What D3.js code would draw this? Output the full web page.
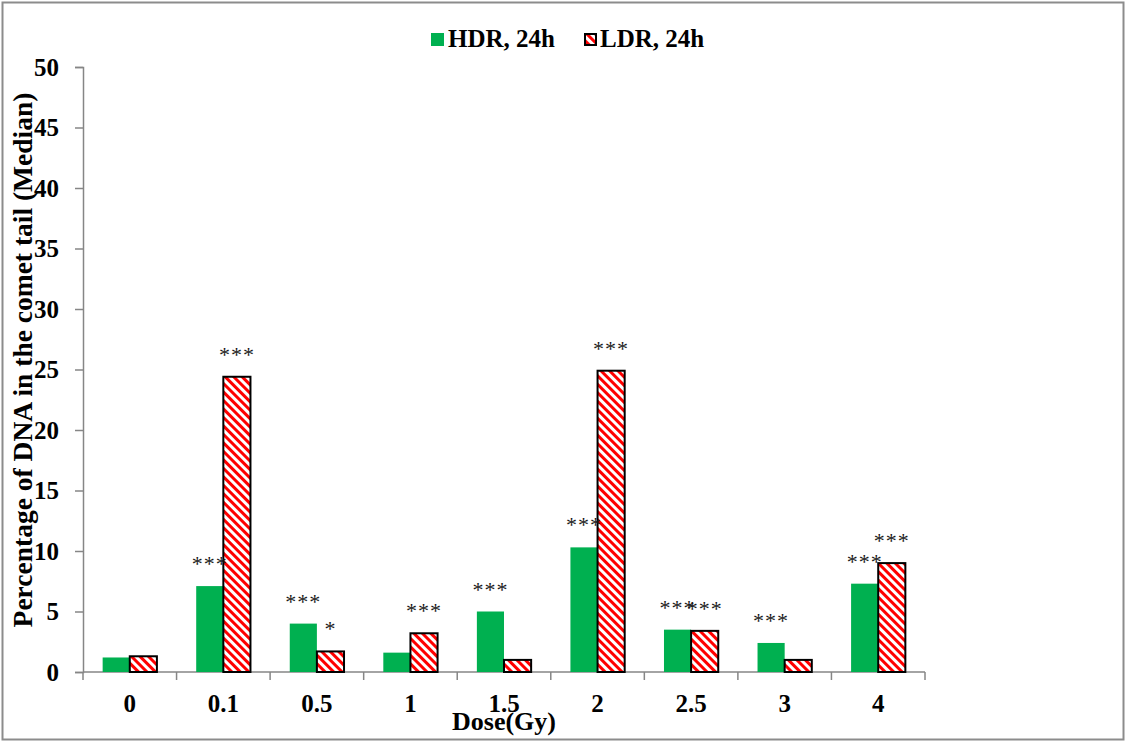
<!DOCTYPE html>
<html>
<head>
<meta charset="utf-8">
<script src="https://cdn.jsdelivr.net/npm/d3@7"></script>
<style>
  html, body { margin: 0; padding: 0; background: #fff; }
  svg { display: block; }
  text { font-family: "Liberation Serif", "Times New Roman", serif; }
</style>
</head>
<body>
<svg id="chart" width="1126" height="742"></svg>
<script>
// Dose categories (Gy)
const doses = ["0", "0.1", "0.5", "1", "1.5", "2", "2.5", "3", "4"];
// Median % DNA in comet tail
const hdrValues = [1.2, 7.1, 4.0, 1.6, 5.0, 10.3, 3.5, 2.4, 7.3];
const ldrValues = [1.3, 24.4, 1.7, 3.2, 1.0, 24.9, 3.4, 1.0, 9.0];
// Significance marks
const hdrStars = ["", "***", "***", "", "***", "***", "***", "***", "***"];
const ldrStars = ["", "***", "*", "***", "", "***", "***", "", "***"];
const seriesNames = ["HDR, 24h", "LDR, 24h"];
const yTicks = [0, 5, 10, 15, 20, 25, 30, 35, 40, 45, 50];

const svg = d3.select("#chart");
const W = 1126, H = 742;
const margin = { left: 83, right: 201, top: 67, bottom: 70 };
const innerW = W - margin.left - margin.right;
const innerH = H - margin.top - margin.bottom;

// Outer frame
svg.append("rect")
  .attr("x", 2.5).attr("y", 2.5).attr("width", W - 5).attr("height", H - 5)
  .attr("fill", "#fff").attr("stroke", "#8c8c8c").attr("stroke-width", 2);

// Diagonal red hatch
const defs = svg.append("defs");
const pat = defs.append("pattern")
  .attr("id", "hatch").attr("patternUnits", "userSpaceOnUse")
  .attr("width", 6).attr("height", 6)
  .attr("patternTransform", "rotate(-45)");
pat.append("rect").attr("width", 6).attr("height", 6).attr("fill", "#fff");
pat.append("rect").attr("width", 3).attr("height", 6).attr("fill", "#ff0000");

const g = svg.append("g").attr("transform", `translate(${margin.left},${margin.top})`);

const x = d3.scaleBand().domain(doses).range([0, innerW]).paddingInner(0.42).paddingOuter(0.21);
const y = d3.scaleLinear().domain([0, 50]).range([innerH, 0]);
const bw = x.bandwidth() / 2;

// Y axis
const yAxis = g.append("g").call(d3.axisLeft(y).tickValues(yTicks).tickSize(8).tickPadding(16));
yAxis.select(".domain").attr("stroke", "#868686").attr("stroke-width", 1.5);
yAxis.selectAll(".tick line").attr("stroke", "#868686").attr("stroke-width", 1.5);
yAxis.selectAll(".tick text")
  .attr("font-family", "Liberation Serif, serif").attr("font-size", 25)
  .attr("font-weight", "bold").attr("fill", "#000");

// X axis line and category dividers
const xAxisG = g.append("g").attr("transform", `translate(0,${innerH})`);
xAxisG.append("line").attr("x1", 0).attr("x2", innerW)
  .attr("stroke", "#868686").attr("stroke-width", 1.5);
const step = x.step();
const bounds = d3.range(doses.length + 1).map(i => x(doses[0]) - x.paddingOuter() * step + i * step);
xAxisG.selectAll("line.div").data(bounds).join("line")
  .attr("class", "div")
  .attr("x1", d => d).attr("x2", d => d).attr("y1", 0).attr("y2", 8)
  .attr("stroke", "#868686").attr("stroke-width", 1.5);
xAxisG.selectAll("text.cat").data(doses).join("text")
  .attr("class", "cat")
  .attr("x", d => x(d) + x.bandwidth() / 2).attr("y", 40)
  .attr("text-anchor", "middle")
  .attr("font-size", 25).attr("font-weight", "bold").text(d => d);

// HDR bars
g.selectAll("rect.hdr").data(doses).join("rect")
  .attr("class", "hdr")
  .attr("x", d => x(d)).attr("width", bw)
  .attr("y", (d, i) => y(hdrValues[i]))
  .attr("height", (d, i) => innerH - y(hdrValues[i]))
  .attr("fill", "#00b050");

// LDR bars
g.selectAll("rect.ldr").data(doses).join("rect")
  .attr("class", "ldr")
  .attr("x", d => x(d) + bw).attr("width", bw)
  .attr("y", (d, i) => y(ldrValues[i]))
  .attr("height", (d, i) => innerH - y(ldrValues[i]))
  .attr("fill", "url(#hatch)").attr("stroke", "#000").attr("stroke-width", 2);

// Significance marks
function starLabels(cls, stars, vals, dx) {
  g.selectAll("text." + cls).data(doses).join("text")
    .attr("class", cls)
    .attr("x", d => x(d) + dx + bw / 2)
    .attr("y", (d, i) => y(vals[i]) - 15)
    .attr("text-anchor", "middle")
    .attr("font-family", "DejaVu Sans, sans-serif")
    .attr("font-size", 22).attr("letter-spacing", 1).attr("fill", "#1a1a1a")
    .text((d, i) => stars[i]);
}
starLabels("hs", hdrStars, hdrValues, 0);
starLabels("ls", ldrStars, ldrValues, bw);

// Axis titles
svg.append("text")
  .attr("transform", `translate(32,360) rotate(-90)`)
  .attr("text-anchor", "middle").attr("font-size", 27.5).attr("font-weight", "bold")
  .text("Percentage of DNA in the comet tail (Median)");
svg.append("text")
  .attr("x", margin.left + innerW / 2).attr("y", 730)
  .attr("text-anchor", "middle").attr("font-size", 26).attr("font-weight", "bold")
  .text("Dose(Gy)");

// Legend
const lg = svg.append("g").attr("transform", "translate(431,33)");
lg.append("rect").attr("x", 0).attr("y", 0).attr("width", 13).attr("height", 13).attr("fill", "#00b050");
lg.append("text").attr("x", 17).attr("y", 14).attr("font-size", 25).attr("font-weight", "bold").text(seriesNames[0]);
lg.append("rect").attr("x", 154).attr("y", 1).attr("width", 11).attr("height", 11)
  .attr("fill", "url(#hatch)").attr("stroke", "#000").attr("stroke-width", 2);
lg.append("text").attr("x", 169).attr("y", 14).attr("font-size", 25).attr("font-weight", "bold").text(seriesNames[1]);
</script>
</body>
</html>
